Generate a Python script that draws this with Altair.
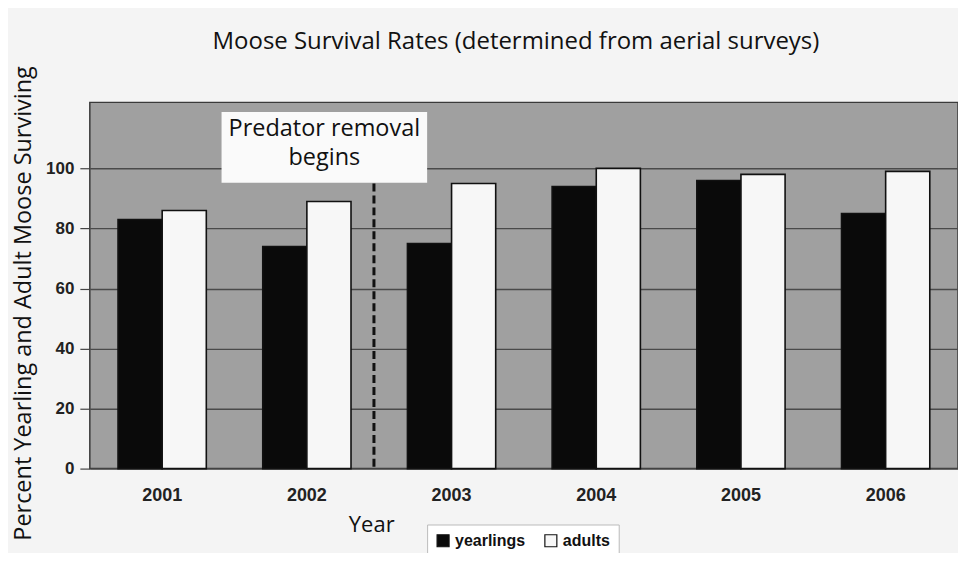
import altair as alt
import pandas as pd

# ---- data ----
years = ["2001", "2002", "2003", "2004", "2005", "2006"]
yearlings = [83, 74, 75, 94, 96, 85]
adults = [86, 89, 95, 100, 98, 99]
groups = ["yearlings", "adults"]

chart_title = ["Moose Survival Rates (determined from aerial surveys)"]
annot_year = ["2002"]
annot_lines = [["Predator removal", "begins"]]

rows = []
for i, yr in enumerate(years):
    rows.append({"year": yr, "group": "yearlings", "value": yearlings[i]})
    rows.append({"year": yr, "group": "adults", "value": adults[i]})
df = pd.DataFrame(rows)

annot_df = pd.DataFrame({
    "year": annot_year,
    "top": [95],
    "bottom": [0],
    "box_y": [107],
    "text_y": [113],
    "label": annot_lines,
})
title_df = pd.DataFrame({"t": chart_title})

FONT_T = "Open Sans"
FONT_L = "Liberation Sans"

xscale = alt.Scale(domain=years, paddingInner=0.39, paddingOuter=0.195)
yscale = alt.Scale(domain=[0, 122], nice=False)

x_axis = alt.Axis(
    labelAngle=0, labelFont=FONT_L, labelFontWeight="bold", labelFontSize=18,
    labelColor="#222", ticks=False, tickSize=0, labelPadding=18, domain=False,
    titleFont=FONT_T, titleFontSize=22, titleFontWeight="normal", titleColor="#111",
    titleX=282, titleY=56, titleAlign="center", titleBaseline="middle",
)
y_axis = alt.Axis(
    values=[0, 20, 40, 60, 80, 100], labelFont=FONT_L, labelFontWeight="bold",
    labelFontSize=17, labelColor="#222", tickSize=10, tickColor="#444", tickWidth=1.2,
    labelPadding=6, domain=False, grid=True, gridColor="#4a4a4a", gridWidth=1.4,
    title="Percent Yearling and Adult Moose Surviving", titleFont=FONT_T,
    titleFontSize=23.5, titleFontWeight="normal", titleColor="#111",
    titleAngle=270, titleX=-66, titleY=201, titleAlign="center", titleBaseline="middle",
)

bars = alt.Chart(df).mark_bar(stroke="#111", strokeWidth=1.6).encode(
    x=alt.X("year:N", title="Year", sort=years, scale=xscale, axis=x_axis),
    xOffset=alt.XOffset("group:N", sort=groups, scale=alt.Scale(domain=groups)),
    y=alt.Y("value:Q", scale=yscale, axis=y_axis),
    fill=alt.Fill(
        "group:N", sort=groups,
        scale=alt.Scale(domain=groups, range=["#0a0a0a", "#f7f7f7"]),
        legend=alt.Legend(
            title=None, orient="none", legendX=338, legendY=423,
            direction="horizontal", fillColor="#ffffff", strokeColor="#bbbbbb",
            padding=8, labelFont=FONT_L, labelFontWeight="bold", labelFontSize=16,
            labelColor="#111", symbolType="square", symbolSize=144,
            symbolStrokeColor="#111", symbolStrokeWidth=1.2, columnPadding=16,
            labelOffset=4,
        ),
    ),
)

box = alt.Chart(annot_df).mark_point(
    shape="M-1,-0.345L1,-0.345L1,0.345L-1,0.345Z", size=206 * 206,
    filled=True, fill="#fafafa", opacity=1, strokeWidth=0,
).encode(
    x=alt.X("year:N", sort=years, bandPosition=0.698),
    y=alt.Y("box_y:Q"),
)

label = alt.Chart(annot_df).mark_text(
    font=FONT_T, fontSize=23.5, lineHeight=29, color="#111",
    align="center", baseline="middle",
).encode(
    x=alt.X("year:N", sort=years, bandPosition=0.698),
    y=alt.Y("text_y:Q"),
    text="label",
)

rule = alt.Chart(annot_df).mark_rule(
    color="#111", strokeWidth=3, strokeDash=[8, 4], xOffset=23,
).encode(
    x=alt.X("year:N", sort=years, bandPosition=1),
    y=alt.Y("top:Q"),
    y2="bottom:Q",
)

title = alt.Chart(title_df).mark_text(
    font=FONT_T, fontSize=24, color="#111", align="center", baseline="middle",
).encode(x=alt.value(427), y=alt.value(-60), text="t")

chart = alt.layer(bars, rule, box, label, title).properties(
    width=870, height=367,
    autosize=alt.AutoSizeParams(type="none"),
    padding={"left": 82, "top": 94, "right": 0, "bottom": 84},
    background="#f4f4f4",
).configure_view(fill="#a0a0a0", stroke="#3a3a3a", strokeWidth=1.5)

chart.save("out.html", embed_options={"renderer": "svg", "actions": False})
